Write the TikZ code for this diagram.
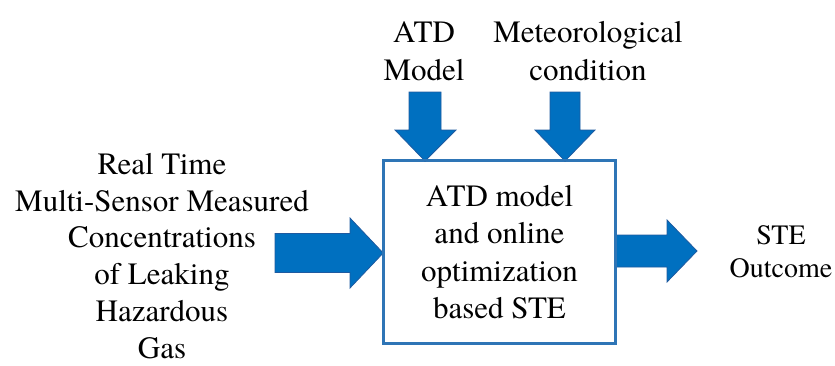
\documentclass[tikz,border=0pt]{standalone}
\usepackage{fontspec}
\setmainfont{texgyretermes-regular.otf}
\definecolor{arrowblue}{RGB}{0,112,192}
\definecolor{arrowedge}{RGB}{30,90,160}
\definecolor{boxedge}{RGB}{46,117,182}
\begin{document}
\begin{tikzpicture}[x=1pt,y=-1pt,
  lbl/.style={align=center,inner sep=0pt,font=\fontsize{31}{37.5}\selectfont},
  lblsmall/.style={align=center,inner sep=0pt,font=\fontsize{28}{33}\selectfont},
  blockarrow/.style={fill=arrowblue,draw=arrowedge,line width=0.8pt,line join=miter},
  mainbox/.style={draw=boxedge,line width=1.6pt,minimum width=231pt,minimum height=182pt,inner sep=0pt,align=center,font=\fontsize{31}{37.5}\selectfont}]
\useasboundingbox (0,0) rectangle (835,365);
\node[mainbox] (box) at (499.5,252) {ATD model\\and online\\optimization\\based STE};
\node[lbl] (atd) at (424,51) {ATD\\Model};
\node[lbl] (met) at (588,51) {Meteorological\\condition};
\node[lbl,font=\fontsize{31}{36.8}\selectfont] (inp) at (162,256) {Real Time\\Multi-Sensor Measured\\Concentrations\\of Leaking\\Hazardous\\Gas};
\node[lblsmall] (out) at (781,252) {STE\\Outcome};
% input arrow
\draw[blockarrow] (275,233.5) -- (350,233.5) -- (350,218) -- (box.west |- 0,253) -- (350,288) -- (350,272.5) -- (275,272.5) -- cycle;
% output arrow
\draw[blockarrow] (box.east |- 0,235) -- (667,235) -- (667,220) -- (697,251) -- (667,282) -- (667,267) -- (box.east |- 0,267) -- cycle;
% down arrows
\draw[blockarrow] (409,92) -- (441,92) -- (441,130) -- (456,130) -- (425,161) -- (395,130) -- (409,130) -- cycle;
\draw[blockarrow] (550,92) -- (580,92) -- (580,130) -- (595,130) -- (565,161) -- (535,130) -- (550,130) -- cycle;
\draw[boxedge,line width=1.6pt] (box.north west) rectangle (box.south east);
\end{tikzpicture}
\end{document}
